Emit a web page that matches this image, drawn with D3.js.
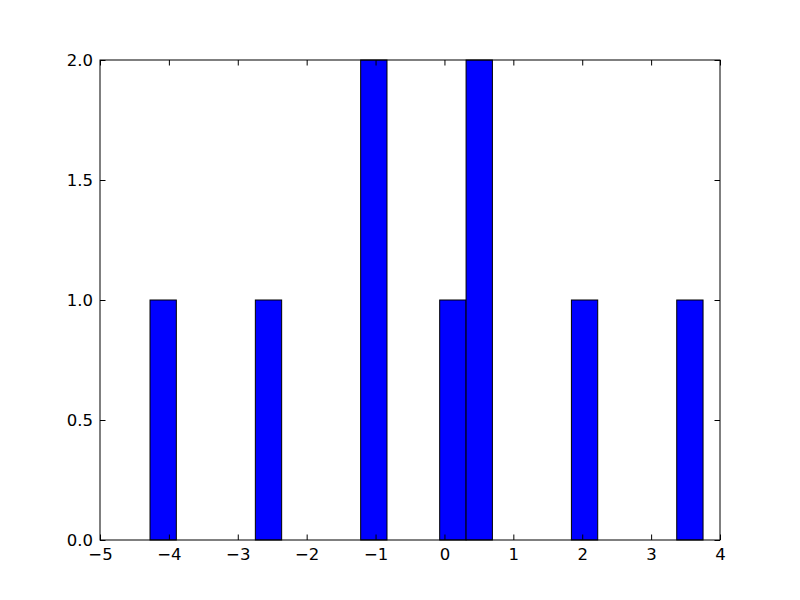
<!DOCTYPE html>
<html>
<head>
<meta charset="utf-8">
<script src="https://cdn.jsdelivr.net/npm/d3@7"></script>
<style>
  html, body { margin: 0; padding: 0; background: #fff; }
  svg { display: block; }
  text { font-family: "DejaVu Sans", sans-serif; }
</style>
</head>
<body>
<svg id="chart" width="800" height="600"></svg>
<script>
// Histogram bins (only non-empty bins)
const binLeft  = [-4.274, -2.745, -1.216, -0.069, 0.314, 1.843, 3.372];
const binRight = [-3.892, -2.363, -0.834, 0.314, 0.696, 2.225, 3.754];
const counts   = [1, 1, 2, 1, 2, 1, 1];

const xTicks = [-5, -4, -3, -2, -1, 0, 1, 2, 3, 4];
const yTicks = [0.0, 0.5, 1.0, 1.5, 2.0];
const xDomain = [-5, 4];
const yDomain = [0, 2];

const margin = {left: 100, top: 60, right: 80, bottom: 60};
const W = 800, H = 600;
const svg = d3.select("#chart");

const x = d3.scaleLinear().domain(xDomain).range([margin.left, W - margin.right]);
const y = d3.scaleLinear().domain(yDomain).range([H - margin.bottom, margin.top]);

const bins = binLeft.map((l, i) => ({x0: l, x1: binRight[i], n: counts[i]}));

svg.append("g").selectAll("rect").data(bins).join("rect")
  .attr("x", d => x(d.x0))
  .attr("y", d => y(d.n))
  .attr("width", d => x(d.x1) - x(d.x0))
  .attr("height", d => y(0) - y(d.n))
  .attr("fill", "#0000ff")
  .attr("stroke", "#000")
  .attr("stroke-width", 1);

const fmtX = d => d < 0 ? "\u2212" + Math.abs(d) : String(d);
const fmtY = d3.format(".1f");
const tickLen = 5.5;

function styleAxis(g) {
  g.select(".domain").remove();
  g.selectAll("line").attr("stroke", "#000").attr("stroke-width", 1);
  g.selectAll("text").attr("fill", "#000").style("font-size", "16.5px");
}

// bottom axis (ticks inward)
svg.append("g").attr("transform", `translate(0,${y(0)})`)
  .call(d3.axisBottom(x).tickValues(xTicks).tickFormat(fmtX).tickSizeInner(-tickLen).tickSizeOuter(0).tickPadding(8))
  .call(styleAxis);
// top axis ticks
svg.append("g").attr("transform", `translate(0,${y(2)})`)
  .call(d3.axisTop(x).tickValues(xTicks).tickFormat("").tickSizeInner(-tickLen).tickSizeOuter(0))
  .call(styleAxis);
// left axis
svg.append("g").attr("transform", `translate(${x(-5)},0)`)
  .call(d3.axisLeft(y).tickValues(yTicks).tickFormat(fmtY).tickSizeInner(-tickLen).tickSizeOuter(0).tickPadding(7))
  .call(styleAxis);
// right axis ticks
svg.append("g").attr("transform", `translate(${x(4)},0)`)
  .call(d3.axisRight(y).tickValues(yTicks).tickFormat("").tickSizeInner(-tickLen).tickSizeOuter(0))
  .call(styleAxis);

// frame
svg.append("rect")
  .attr("x", x(-5)).attr("y", y(2))
  .attr("width", x(4) - x(-5)).attr("height", y(0) - y(2))
  .attr("fill", "none").attr("stroke", "#000").attr("stroke-width", 1);
</script>
</body>
</html>
